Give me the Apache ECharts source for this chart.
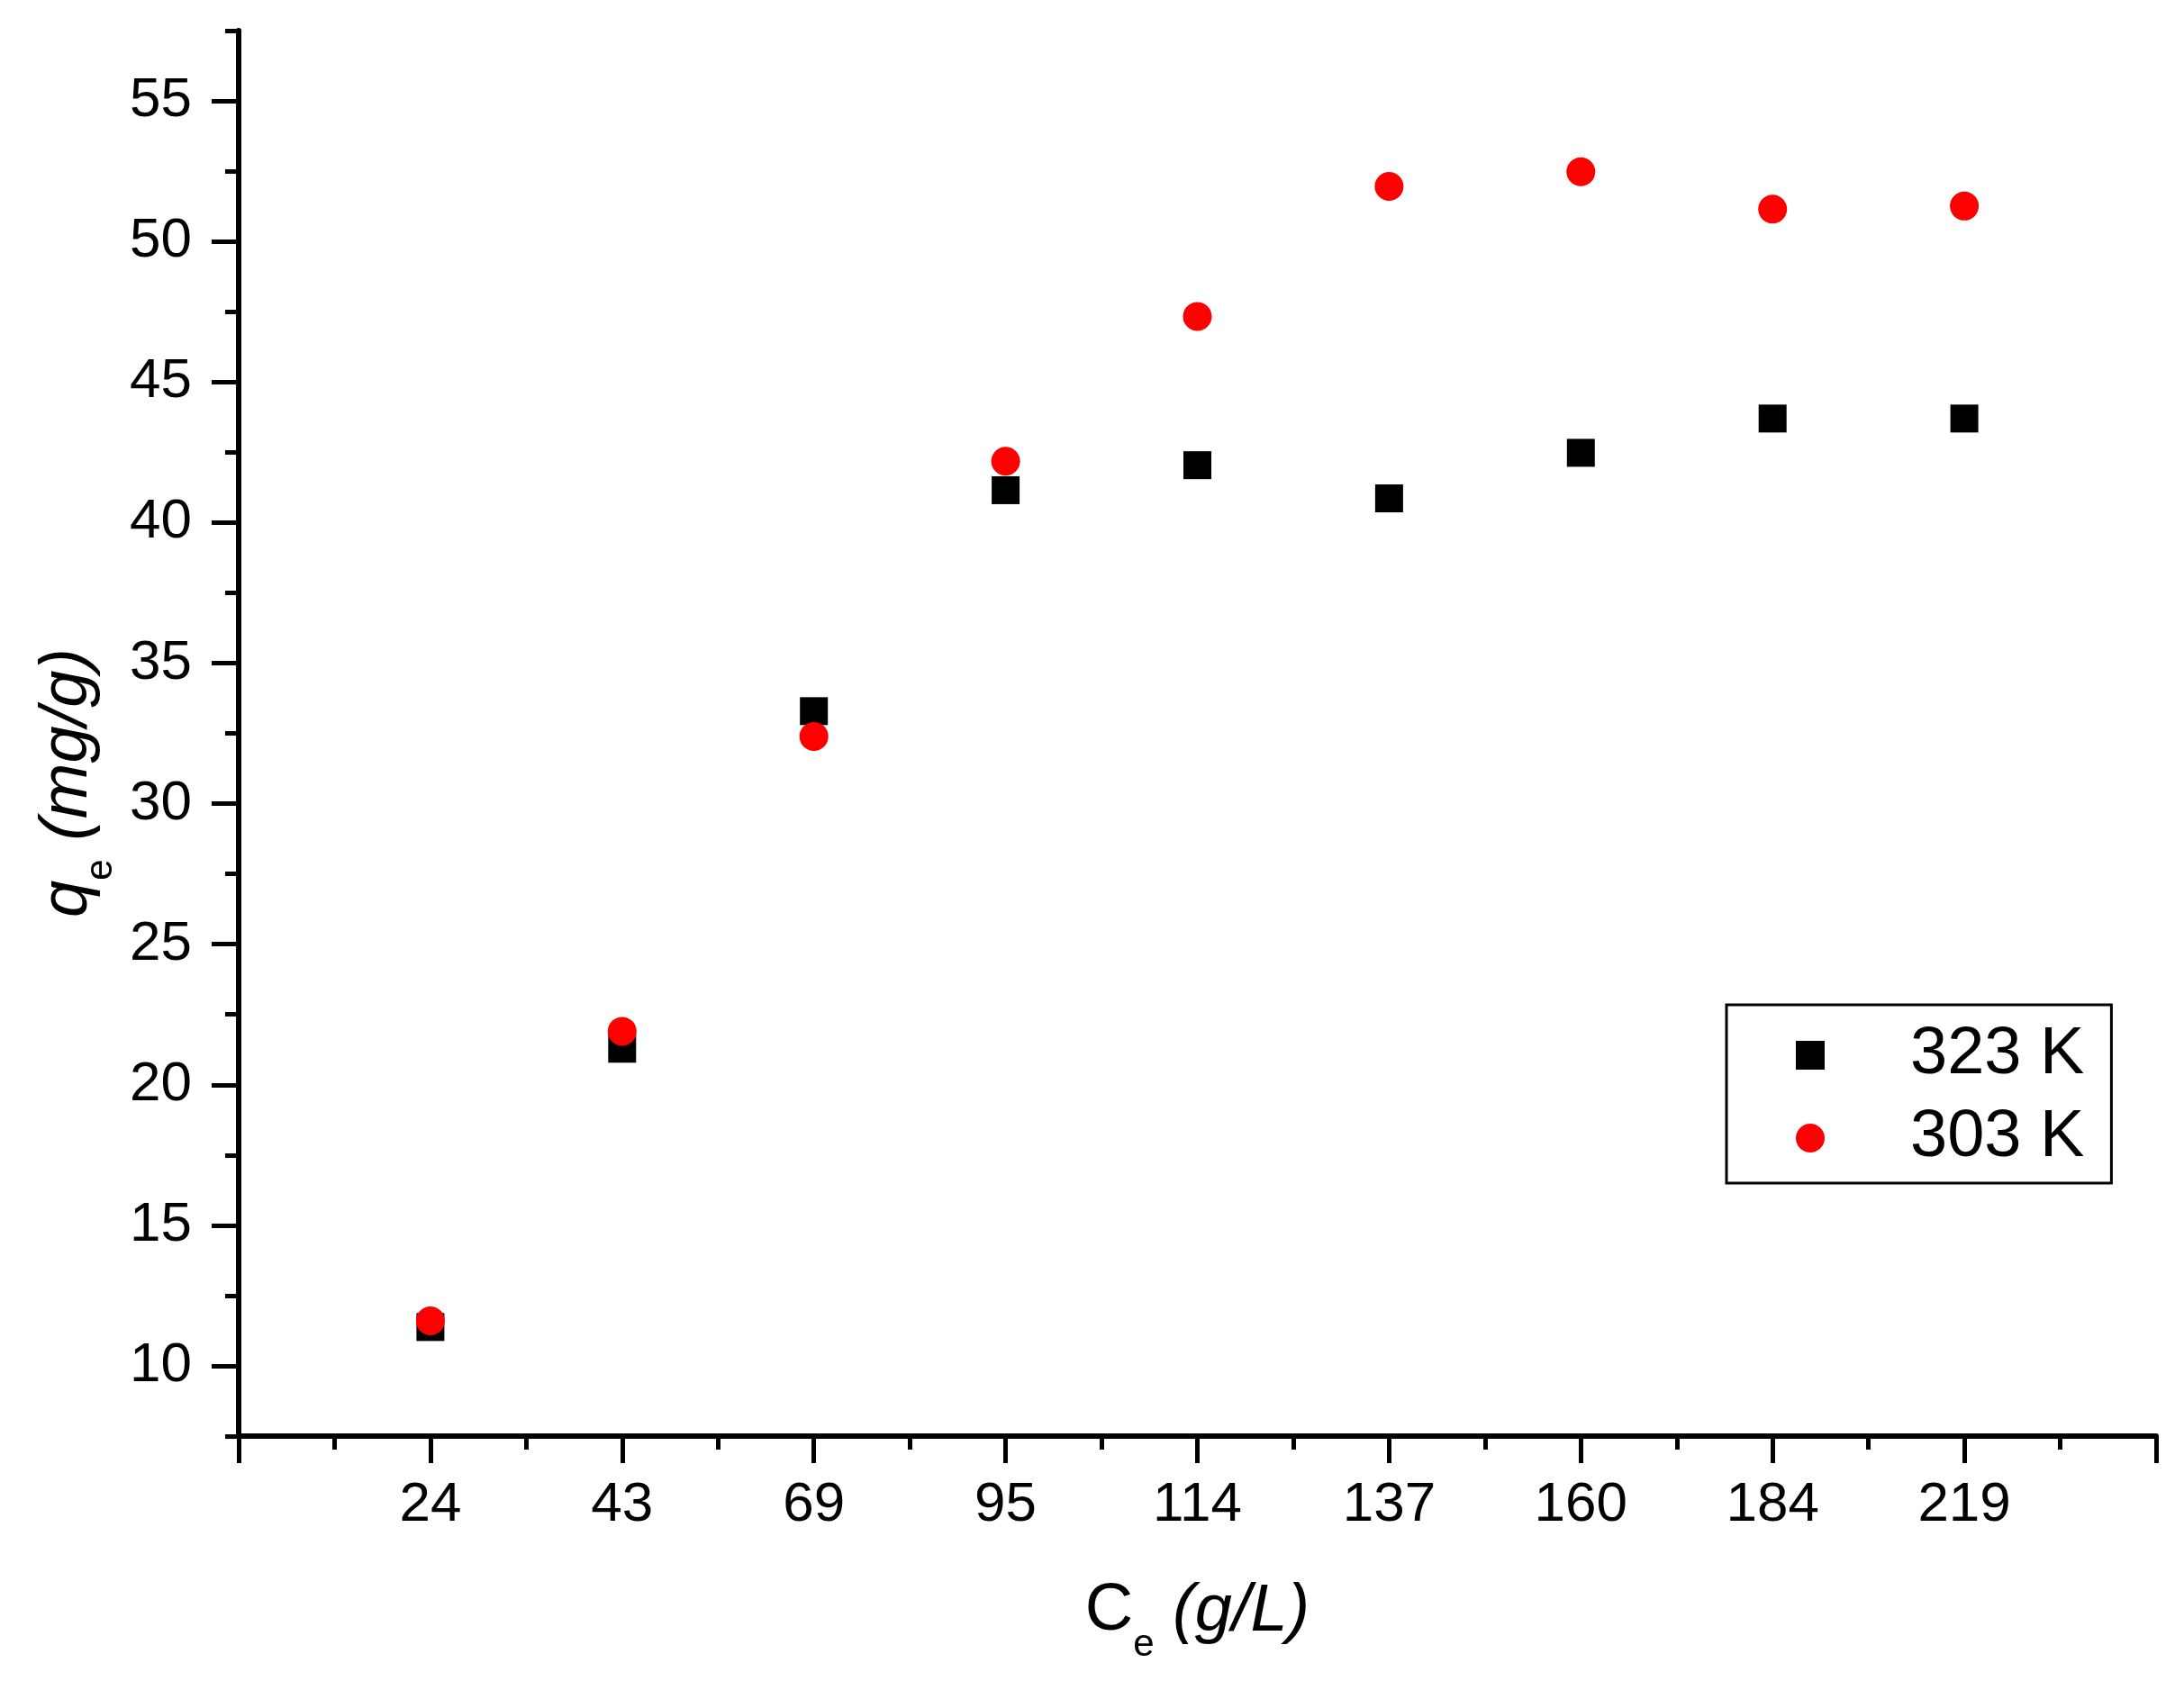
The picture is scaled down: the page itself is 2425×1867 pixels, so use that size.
<!DOCTYPE html>
<html style="height: 100%">
<head>
<meta charset="utf-8"/>
<script type="text/javascript" src="https://cdn.jsdelivr.net/npm/echarts@6.0.0/dist/echarts.min.js"></script>
</head>
<body style="height: 100%; margin: 0; background: #ffffff">
<div id="container" style="width: 2425px; height: 1867px"></div>
<script type="text/javascript">
// Ce (g/L) categories, evenly spaced on the axis
var ceLabels = ['24', '43', '69', '95', '114', '137', '160', '184', '219'];
// qe (mg/g)
var qe323 = [11.38, 21.28, 33.29, 41.15, 42.04, 40.86, 42.48, 43.70, 43.70];
var qe303 = [11.60, 21.90, 32.39, 42.18, 47.33, 51.96, 52.48, 51.15, 51.26];
// y axis ticks
var yMajorTicks = [10, 15, 20, 25, 30, 35, 40, 45, 50, 55];
var yMinorTicks = [7.5, 12.5, 17.5, 22.5, 27.5, 32.5, 37.5, 42.5, 47.5, 52.5, 57.5];

var FONT = 'Liberation Sans, Arial, sans-serif';

function toPoints(vals){
	var pts = [];
	for(var i=0;i<vals.length;i++){
		pts.push([i+1, vals[i]]);
	}
	return pts;
}

var myChart = echarts.init(document.getElementById('container'));

var titleRich = {
	n: {fontSize: 74, lineHeight: 74, verticalAlign: 'top', fontFamily: FONT, color: '#000'},
	ni: {fontSize: 74, lineHeight: 74, verticalAlign: 'top', fontStyle: 'italic', fontFamily: FONT, color: '#000'},
	s: {fontSize: 42, lineHeight: 42, verticalAlign: 'top', padding: [53, 0, 0, 0], fontFamily: FONT, color: '#000'},
	i: {fontSize: 74, lineHeight: 74, verticalAlign: 'top', fontStyle: 'italic', fontFamily: FONT, color: '#000'}
};

var option = {
	backgroundColor: '#ffffff',
	animation: false,
	grid: {
		left: 265, right: 31, top: 34, bottom: 272,
		containLabel: false,
		outerBoundsMode: 'none'
	},
	legend: {
		orient: 'vertical',
		left: 1917,
		top: 1116,
		padding: [19, 30, 13, 77],
		itemGap: 18,
		itemWidth: 32,
		itemHeight: 32,
		borderColor: '#000',
		borderWidth: 3,
		borderRadius: 0,
		backgroundColor: '#fff',
		data: [{name: '323 K', icon: 'rect'}, {name: '303 K', icon: 'circle'}],
		formatter: function(name){ return '{g|}{t|' + name + '}'; },
		textStyle: {
			rich: {
				g: {width: 90},
				t: {fontSize: 74, lineHeight: 74, fontFamily: FONT, color: '#000'}
			}
		}
	},
	xAxis: {
		type: 'value',
		min: 0,
		max: 10,
		interval: 1,
		name: '{n|C}{s|e}{i| (g/L)}',
		nameLocation: 'middle',
		nameGap: 158,
		nameTextStyle: {rich: titleRich},
		axisLine: {show: true, onZero: false, lineStyle: {color: '#000', width: 6}},
		axisTick: {show: true, length: 30, lineStyle: {color: '#000', width: 5}},
		minorTick: {show: true, splitNumber: 2, length: 15, lineStyle: {color: '#000', width: 5}},
		splitLine: {show: false},
		axisLabel: {
			margin: 46,
			fontSize: 62,
			fontFamily: FONT,
			color: '#000',
			formatter: function(v){
				var k = Math.round(v);
				return ceLabels[k-1] || '';
			}
		}
	},
	yAxis: [{
		type: 'value',
		min: 7.5,
		max: 57.5,
		name: '{ni|q}{s|e}{i| (mg/g)}',
		nameLocation: 'middle',
		nameGap: 150,
		nameTextStyle: {rich: titleRich, padding: [0, 110, 0, 0]},
		axisLine: {show: true, onZero: false, lineStyle: {color: '#000', width: 6}},
		axisTick: {show: true, length: 30, customValues: yMajorTicks, lineStyle: {color: '#000', width: 5}},
		splitLine: {show: false},
		axisLabel: {
			margin: 52,
			fontSize: 62,
			fontFamily: FONT,
			color: '#000',
			customValues: yMajorTicks
		}
	}, {
		type: 'value',
		position: 'left',
		min: 7.5,
		max: 57.5,
		axisLine: {show: false},
		axisTick: {show: true, length: 15, customValues: yMinorTicks, lineStyle: {color: '#000', width: 5}},
		axisLabel: {show: false},
		splitLine: {show: false}
	}],
	series: [{
		name: '323 K',
		type: 'scatter',
		symbol: 'rect',
		symbolSize: 31,
		itemStyle: {color: '#000000', opacity: 1},
		data: toPoints(qe323),
		z: 2
	}, {
		name: '303 K',
		type: 'scatter',
		symbol: 'circle',
		symbolSize: 32,
		itemStyle: {color: '#ff0000', opacity: 1},
		data: toPoints(qe303),
		z: 3
	}]
};

myChart.setOption(option);
</script>
</body>
</html>
